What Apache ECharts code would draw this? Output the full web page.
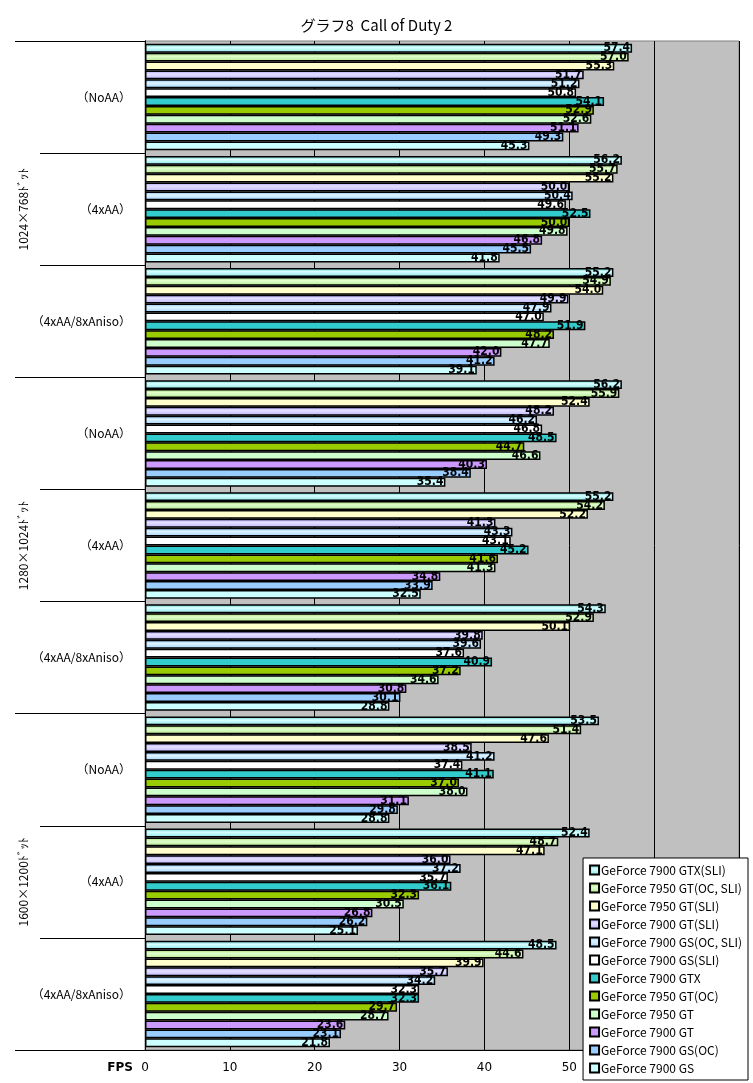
<!DOCTYPE html>
<html>
<head>
<meta charset="utf-8">
<title>グラフ8 Call of Duty 2</title>
<script src="https://cdn.jsdelivr.net/npm/echarts@6/dist/echarts.min.js"></script>
<style>
  html, body { margin: 0; padding: 0; background: #fff; }
  #chart { width: 753px; height: 1083px; }
</style>
</head>
<body>
<div id="chart"></div>
<script>
// 設定(AA)ごとのカテゴリ
var categories = [
  '（NoAA）', '（4xAA）', '（4xAA/8xAniso）',
  '（NoAA）', '（4xAA）', '（4xAA/8xAniso）',
  '（NoAA）', '（4xAA）', '（4xAA/8xAniso）'
];
var resolutions = ['1024×768ﾄﾞｯﾄ', '1280×1024ﾄﾞｯﾄ', '1600×1200ﾄﾞｯﾄ'];
var xTicks = [0, 10, 20, 30, 40, 50, 60, 70];

var cardNames = [
  'GeForce 7900 GTX(SLI)',
  'GeForce 7950 GT(OC, SLI)',
  'GeForce 7950 GT(SLI)',
  'GeForce 7900 GT(SLI)',
  'GeForce 7900 GS(OC, SLI)',
  'GeForce 7900 GS(SLI)',
  'GeForce 7900 GTX',
  'GeForce 7950 GT(OC)',
  'GeForce 7950 GT',
  'GeForce 7900 GT',
  'GeForce 7900 GS(OC)',
  'GeForce 7900 GS'
];

// FPS (カテゴリ順)
var gtxSli      = [57.4, 56.2, 55.2, 56.2, 55.2, 54.3, 53.5, 52.4, 48.5];
var gt7950OcSli = [57.0, 55.7, 54.9, 55.9, 54.2, 52.9, 51.4, 48.7, 44.6];
var gt7950Sli   = [55.3, 55.2, 54.0, 52.4, 52.2, 50.1, 47.6, 47.1, 39.9];
var gt7900Sli   = [51.7, 50.0, 49.9, 48.2, 41.3, 39.8, 38.5, 36.0, 35.7];
var gsOcSli     = [51.2, 50.4, 47.9, 46.2, 43.3, 39.6, 41.2, 37.2, 34.2];
var gsSli       = [50.8, 49.6, 47.0, 46.8, 43.1, 37.6, 37.4, 35.7, 32.3];
var gtx         = [54.1, 52.5, 51.9, 48.5, 45.2, 40.9, 41.1, 36.1, 32.3];
var gt7950Oc    = [52.9, 50.0, 48.2, 44.7, 41.6, 37.2, 37.0, 32.3, 29.7];
var gt7950      = [52.6, 49.8, 47.7, 46.6, 41.3, 34.6, 38.0, 30.5, 28.7];
var gt7900      = [51.1, 46.8, 42.0, 40.3, 34.8, 30.8, 31.1, 26.8, 23.6];
var gsOc        = [49.3, 45.5, 41.2, 38.4, 33.9, 30.1, 29.8, 26.2, 23.1];
var gs          = [45.3, 41.8, 39.1, 35.4, 32.5, 28.8, 28.8, 25.1, 21.8];

var seriesValues = [gtxSli, gt7950OcSli, gt7950Sli, gt7900Sli, gsOcSli, gsSli,
  gtx, gt7950Oc, gt7950, gt7900, gsOc, gs];

function stripe (a, b, c) {
  return new echarts.graphic.LinearGradient(0, 0, 0, 1, [
    { offset: 0, color: a },
    { offset: 0.4, color: b },
    { offset: 1, color: c }
  ]);
}

var fills = [
  stripe('#55c8cc', '#d8ffff', '#88e4e8'),
  stripe('#99cc66', '#e0ffcc', '#b4e890'),
  '#ffffcc',
  stripe('#a59cff', '#e4e0ff', '#bcb4ff'),
  stripe('#77bbee', '#e0f4ff', '#9fd4ff'),
  '#ffffff',
  '#33cccc',
  '#99cc00',
  '#ccffcc',
  '#cc99ff',
  '#99ccff',
  '#ccffff'
];

var myChart = echarts.init(document.getElementById('chart'));

var series = seriesValues.map(function (vals, i) {
  return {
    name: cardNames[i],
    type: 'bar',
    yAxisIndex: 0,
    data: vals,
    barGap: '0%',
    barCategoryGap: '5%',
    itemStyle: {
      color: fills[i],
      borderColor: '#000',
      borderWidth: 1.5
    },
    label: {
      show: true,
      position: 'insideRight',
      distance: 2,
      color: '#000',
      fontSize: 12,
      fontWeight: 'bold',
      fontFamily: '"Liberation Sans Narrow", "DejaVu Sans Condensed", sans-serif',
      formatter: function (p) { return p.value.toFixed(1); }
    }
  };
});

myChart.setOption({
  animation: false,
  backgroundColor: '#fff',
  title: {
    text: 'グラフ8  Call of Duty 2',
    left: 'center',
    top: 13,
    textStyle: {
      fontFamily: '"Noto Sans CJK JP", sans-serif',
      fontSize: 15,
      fontWeight: 'normal',
      color: '#000'
    }
  },
  legend: {
    orient: 'vertical',
    right: 5,
    bottom: 3,
    padding: [6, 6, 6, 6],
    backgroundColor: '#fff',
    borderColor: '#000',
    borderWidth: 1,
    borderRadius: 0,
    itemWidth: 9,
    itemHeight: 9,
    itemGap: 6,
    icon: 'rect',
    textStyle: {
      fontFamily: '"Noto Sans CJK JP", sans-serif',
      fontSize: 12,
      color: '#000',
      padding: [0, 0, 0, -3]
    },
    data: cardNames
  },
  grid: {
    left: 145,
    right: 14,
    top: 41,
    bottom: 33,
    show: true,
    backgroundColor: '#c0c0c0',
    borderColor: '#808080',
    borderWidth: 1
  },
  xAxis: {
    type: 'value',
    min: xTicks[0],
    max: xTicks[xTicks.length - 1],
    interval: 10,
    name: 'FPS',
    nameLocation: 'start',
    nameGap: 12,
    nameTextStyle: {
      color: '#000',
      fontWeight: 'bold',
      fontSize: 12,
      fontFamily: '"DejaVu Sans", sans-serif',
      verticalAlign: 'top',
      padding: [12, 0, 0, 0]
    },
    axisLine: { show: true, lineStyle: { color: '#000', width: 1 } },
    axisTick: { show: false },
    axisLabel: {
      color: '#000',
      fontSize: 12,
      margin: 12,
      fontFamily: '"DejaVu Sans", sans-serif'
    },
    splitLine: { show: true, lineStyle: { color: '#000', width: 1 } }
  },
  yAxis: [
    {
      type: 'category',
      inverse: true,
      position: 'left',
      data: categories,
      axisLine: { show: true, lineStyle: { color: '#000', width: 1 } },
      axisTick: { show: true, length: 105, lineStyle: { color: '#000' } },
      axisLabel: {
        color: '#000',
        fontSize: 12,
        margin: 14,
        fontFamily: '"Noto Sans CJK JP", sans-serif'
      },
      splitLine: { show: false }
    },
    {
      type: 'category',
      inverse: true,
      position: 'left',
      data: resolutions,
      axisLine: { show: true, lineStyle: { color: '#000', width: 1 } },
      axisTick: { show: true, length: 130, lineStyle: { color: '#000' } },
      axisLabel: {
        color: '#000',
        fontSize: 12,
        rotate: 90,
        margin: 116,
        fontFamily: '"Noto Sans CJK JP", sans-serif'
      },
      splitLine: { show: false }
    }
  ],
  series: series
});
</script>
</body>
</html>
